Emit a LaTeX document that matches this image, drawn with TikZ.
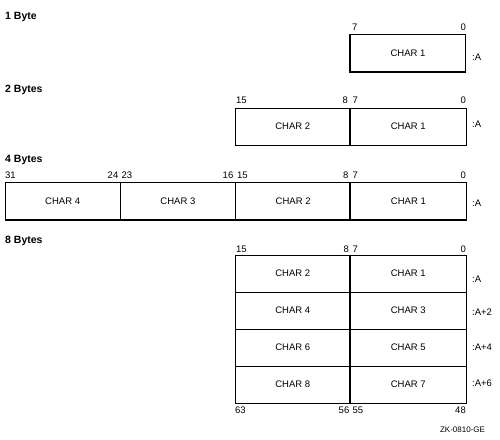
\documentclass[tikz,border=0pt]{standalone}
\usepackage{fontspec}
\setmainfont{Liberation Sans}
\begin{document}
\begin{tikzpicture}[x=1pt,y=-1pt,
  cell/.style={draw, line width=1pt, inner sep=0pt, minimum width=115.5pt, minimum height=36.5pt, font=\fontsize{9.5}{11}\selectfont},
  tall/.style={minimum height=37pt},
  quad/.style={minimum width=115.25pt},
  thickedge/.style={line width=1.8pt},
  head/.style={anchor=base west, inner sep=0pt, font=\bfseries\fontsize{10.5}{12}\selectfont},
  bitl/.style={anchor=base west, inner sep=0pt, font=\fontsize{9.5}{11}\selectfont},
  bitr/.style={anchor=base east, inner sep=0pt, font=\fontsize{9.5}{11}\selectfont},
  addr/.style={anchor=base west, inner sep=0pt, font=\fontsize{9.5}{11}\selectfont},
  tag/.style={anchor=base, inner sep=0pt, font=\fontsize{8}{9}\selectfont},
]
\useasboundingbox (0,0) rectangle (500,439);

% ---------- 1 Byte ----------
\node[head] (h1) at (5,19.5) {1 Byte};
\node[cell] (a1) at (408,53) {CHAR 1};
\draw[thickedge] (a1.north west) -- (a1.south west) -- (a1.south east);
\node[bitl] (a1n7) at (352,30) {7};
\node[bitr] (a1n0) at (466,30) {0};
\node[addr] (a1a) at (472,60.5) {:A};

% ---------- 2 Bytes ----------
\node[head] (h2) at (5,92.7) {2 Bytes};
\node[cell,tall] (b2) at (292.75,126.5) {CHAR 2};
\node[cell,tall] (b1) at (408.25,126.5) {CHAR 1};
\draw[thickedge] (b2.south west) -- (b1.south east);
\draw[thickedge] (b1.north west) -- (b1.south west);
\node[bitl] (b15) at (236,103.5) {15};
\node[bitr] (b8) at (348,103.5) {8};
\node[bitl] (b7) at (352.5,103.5) {7};
\node[bitr] (b0) at (466,103.5) {0};
\node[addr] (ba) at (472,127) {:A};

% ---------- 4 Bytes ----------
\node[head] (h4) at (5,162.7) {4 Bytes};
\node[cell,quad] (c4) at (62.625,201) {CHAR 4};
\node[cell,quad] (c3) at (177.875,201) {CHAR 3};
\node[cell,quad] (c2) at (293.125,201) {CHAR 2};
\node[cell,quad] (c1) at (408.375,201) {CHAR 1};
\draw[thickedge] (c4.south west) -- (c1.south east);
\draw[thickedge] (c1.north west) -- (c1.south west);
\node[bitl] (c31) at (5,178.5) {31};
\node[bitr] (c24) at (118.5,178.5) {24};
\node[bitl] (c23) at (121.5,178.5) {23};
\node[bitr] (c16) at (233.5,178.5) {16};
\node[bitl] (c15) at (237,178.5) {15};
\node[bitr] (c8) at (348.5,178.5) {8};
\node[bitl] (c7) at (352.5,178.5) {7};
\node[bitr] (c0) at (466,178.5) {0};
\node[addr] (ca) at (472,206) {:A};

% ---------- 8 Bytes ----------
\node[head] (h8) at (5,243) {8 Bytes};
\node[cell,tall] (d2) at (292.75,273.5) {CHAR 2};
\node[cell,tall] (d1) at (408.25,273.5) {CHAR 1};
\node[cell,tall] (d4) at (292.75,310.5) {CHAR 4};
\node[cell,tall] (d3) at (408.25,310.5) {CHAR 3};
\node[cell,tall] (d6) at (292.75,347.5) {CHAR 6};
\node[cell,tall] (d5) at (408.25,347.5) {CHAR 5};
\node[cell,tall] (d8) at (292.75,384.5) {CHAR 8};
\node[cell,tall] (d7) at (408.25,384.5) {CHAR 7};
\draw[thickedge] (d8.south west) -- (d7.south east);
\draw[thickedge] (d1.north west) -- (d7.south west);
\node[bitl] (d15) at (236,252) {15};
\node[bitr] (d8n) at (349,252) {8};
\node[bitl] (d7n) at (352.5,252) {7};
\node[bitr] (d0n) at (466,252) {0};
\node[bitl] (d63) at (235,413.5) {63};
\node[bitr] (d56) at (349.5,413.5) {56};
\node[bitl] (d55) at (352.5,413.5) {55};
\node[bitr] (d48) at (466,413.5) {48};
\node[addr] (da0) at (472,282.5) {:A};
\node[addr] (da2) at (472,315) {:A+2};
\node[addr] (da4) at (472,350) {:A+4};
\node[addr] (da6) at (472,386) {:A+6};

\node[tag] (zk) at (462.5,432.3) {ZK-0810-GE};
\end{tikzpicture}
\end{document}
